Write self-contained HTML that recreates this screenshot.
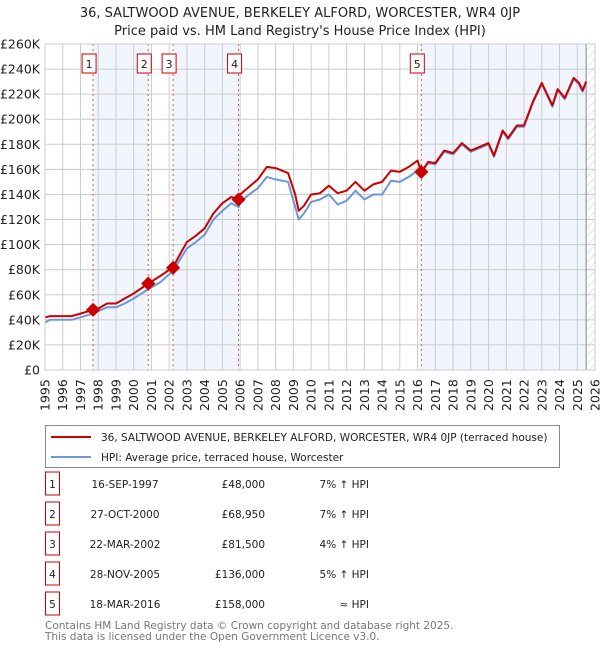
<!DOCTYPE html>
<html><head><meta charset="utf-8"><style>
body{margin:0;background:#fff;font-family:"DejaVu Sans","Liberation Sans",sans-serif;}
svg text{font-family:"DejaVu Sans","Liberation Sans",sans-serif;}
</style></head><body>
<svg id="c" width="600" height="650" xmlns="http://www.w3.org/2000/svg">
<defs><pattern id="hatch" width="6" height="6" patternUnits="userSpaceOnUse" patternTransform="rotate(45)"><line x1="0" y1="0" x2="0" y2="6" stroke="#ccc" stroke-width="1"/></pattern></defs>
<text x="300" y="17" text-anchor="middle" font-size="13" fill="#222">36, SALTWOOD AVENUE, BERKELEY ALFORD, WORCESTER, WR4 0JP</text>
<text x="300" y="35" text-anchor="middle" font-size="13" fill="#222">Price paid vs. HM Land Registry's House Price Index (HPI)</text>
<g id="plot"></g>
<g>
<rect x="45.5" y="425.5" width="514" height="42" fill="#fff" stroke="#888"/>
<line x1="51" y1="437" x2="91" y2="437" stroke="#cc0000" stroke-width="2"/>
<text x="101" y="441" font-size="10.5" fill="#222">36, SALTWOOD AVENUE, BERKELEY ALFORD, WORCESTER, WR4 0JP (terraced house)</text>
<line x1="51" y1="457" x2="91" y2="457" stroke="#6a98d8" stroke-width="2"/>
<text x="101" y="461" font-size="10.5" fill="#222">HPI: Average price, terraced house, Worcester</text>
</g>
<g id="table" font-size="10.5" fill="#222"></g>
<text x="45" y="629" font-size="10.5" fill="#777">Contains HM Land Registry data © Crown copyright and database right 2025.</text>
<text x="45" y="640" font-size="10.5" fill="#777">This data is licensed under the Open Government Licence v3.0.</text>
</svg>
<script>
const dates=[1995,1995.3,1996,1996.5,1997,1997.71,1998,1998.5,1999,1999.5,2000,2000.82,2001.5,2002.22,2002.6,2003,2003.5,2004,2004.5,2005,2005.5,2005.91,2006,2006.5,2007,2007.5,2008,2008.7,2009.1,2009.3,2009.6,2010,2010.5,2011,2011.5,2012,2012.5,2013,2013.5,2014,2014.5,2015,2015.5,2016,2016.21,2016.6,2017,2017.5,2018,2018.5,2019,2019.5,2020,2020.3,2020.8,2021.1,2021.6,2022,2022.5,2023,2023.4,2023.6,2023.9,2024.3,2024.8,2025.1,2025.3,2025.5];
const hpi=[38,40,40,40,42,45,47,50,50,53,57,64.5,70,79,88,97,102,108,120,127,133,130,134,140,145,154,152,150,130,120,125,134,136,140,132,135,143,136,140,140,151,150,154,159,158,165,164,174,172,180,174,177,180,170,190,184,194,194,213,228,216,210,223,216,232,228,222,229];
const paid=[42,43,43,43,45,48,49,53,53,57,61,69,75,82,92,102,107,113,125,133,138,136,140,146,152,162,161,157,140,127,131,140,141,147,141,143,150,143,148,150,159,158,162,167,158,166,165,175,173,181,175,178,181,171,191,185,195,195,214,229,217,211,224,217,233,229,223,230];
const saleDates=[1997.71,2000.82,2002.22,2005.91,2016.21];
const salePrices=[48,68.95,81.5,136,158];
const saleLabels=["16-SEP-1997","27-OCT-2000","22-MAR-2002","28-NOV-2005","18-MAR-2016"];
const salePriceText=["£48,000","£68,950","£81,500","£136,000","£158,000"];
const saleHpiText=["7% ↑ HPI","7% ↑ HPI","4% ↑ HPI","5% ↑ HPI","≈ HPI"];
const yTicks=[0,20,40,60,80,100,120,140,160,180,200,220,240,260];
const years=[1995,1996,1997,1998,1999,2000,2001,2002,2003,2004,2005,2006,2007,2008,2009,2010,2011,2012,2013,2014,2015,2016,2017,2018,2019,2020,2021,2022,2023,2024,2025,2026];

const NS="http://www.w3.org/2000/svg";
const X0=45,X1=595,Y0=370,Y1=44;
const xs=d=>X0+(d-1995)*(X1-X0)/31;
const ys=v=>Y0-(v)*(Y0-Y1)/260;
const plot=document.getElementById('plot');
function mk(tag,attrs,parent){const e=document.createElementNS(NS,tag);for(const k in attrs)e.setAttribute(k,attrs[k]);(parent||plot).appendChild(e);return e;}

const bg=mk('rect',{x:X0,y:Y1,width:X1-X0,height:Y0-Y1,fill:'#fff'});


const bands=[[0,1],[2,3],[4,null]];
bands.forEach((b,i)=>{const a=xs(saleDates[b[0]]);const e=b[1]===null?xs(2025.5):xs(saleDates[b[1]]);
const r=mk('rect',{x:a,y:Y1,width:e-a,height:Y0-Y1,fill:'#eef3fc',opacity:0.8});

});
const h=mk('rect',{x:xs(2025.5),y:Y1,width:X1-xs(2025.5),height:Y0-Y1,fill:'url(#hatch)'});


yTicks.forEach(v=>{const l=mk('line',{x1:X0,x2:X1,y1:ys(v),y2:ys(v),stroke:'#ccc','stroke-width':1});


const t=mk('text',{x:40,y:ys(v)+4.5,'text-anchor':'end','font-size':12.5,fill:'#222'});t.textContent=v===0?'£0':'£'+v+'K';

});
years.forEach(y=>{const l=mk('line',{x1:xs(y),x2:xs(y),y1:Y1,y2:Y0,stroke:'#ccc','stroke-width':1});


const t=mk('text',{x:0,y:0,'font-size':12.5,fill:'#222',transform:`translate(${xs(y)+4.5},411) rotate(-90)`});t.textContent=y;

});
const vl=mk('line',{x1:xs(2025.5),x2:xs(2025.5),y1:Y1,y2:Y0,stroke:'#888'});


saleDates.forEach((d,i)=>{const l=mk('line',{x1:xs(d),x2:xs(d),y1:Y1,y2:Y0,stroke:'#e05050','stroke-dasharray':'2,3','stroke-width':1});


const bx=xs(d)-4;
const r=mk('rect',{x:bx-7,y:54,width:14,height:19,fill:'#fff',stroke:'#cc0000'});


const t=mk('text',{x:bx,y:68,'text-anchor':'middle','font-size':11,fill:'#222'});t.textContent=i+1;

});
function line(vals,col,name){const p=mk('path',{d:vals.map((v,i)=>(i?'L':'M')+xs(dates[i]).toFixed(1)+','+ys(v).toFixed(1)).join(''),fill:'none',stroke:col,'stroke-width':2,'stroke-linejoin':'round'});

}
line(hpi,'#6a98d8','hpi-line');
line(paid,'#cc0000','property-price-line');
saleDates.forEach((d,i)=>{const c=mk('rect',{x:xs(d)-5,y:ys(salePrices[i])-5,width:10,height:10,fill:'#cc0000',transform:`rotate(45 ${xs(d)} ${ys(salePrices[i])})`});

});
const frame=mk('rect',{x:X0,y:Y1,width:X1-X0,height:Y0-Y1,fill:'none',stroke:'#ccc'});


const tb=document.getElementById('table');
saleDates.forEach((d,i)=>{const y=484+i*30;
const r=mk('rect',{x:45.5,y:y-12,width:14,height:23,fill:'#fff',stroke:'#cc0000'},tb);


const vals=[[52.5,'middle',i+1],[125,'middle',saleLabels[i]],[265,'end',salePriceText[i]],[369,'end',saleHpiText[i]]];
vals.forEach(v=>{const t=mk('text',{x:v[0],y:y+4,'text-anchor':v[1],'font-size':10.5,fill:'#222'},tb);t.textContent=v[2];

});});
</script>
</body></html>
